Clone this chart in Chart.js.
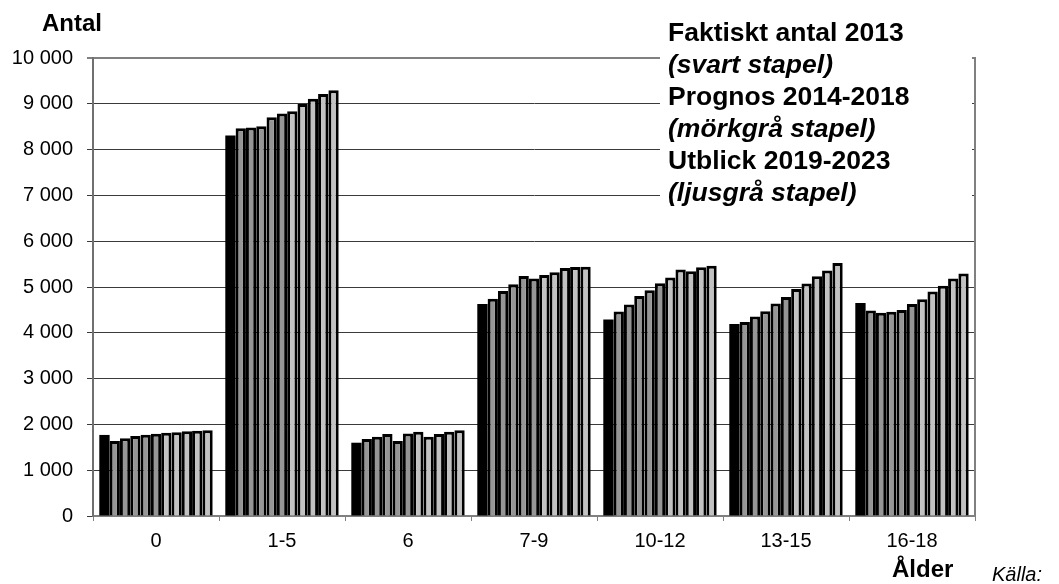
<!DOCTYPE html>
<html lang="sv">
<head>
<meta charset="utf-8">
<title>Befolkningsprognos</title>
<script src="https://cdn.jsdelivr.net/npm/chart.js@4"></script>
<style>
  body { margin: 0; background: #fff; }
  #ram { width: 1059px; height: 584px; position: relative; }
</style>
</head>
<body>
<div id="ram"><canvas id="grafik"></canvas></div>
<script>
const aldrar = ["0", "1-5", "6", "7-9", "10-12", "13-15", "16-18"];
const ar = ["2013", "2014", "2015", "2016", "2017", "2018", "2019", "2020", "2021", "2022", "2023"];

// antal per åldersgrupp, ett år per rad
const v2013 = [1770, 8310, 1600, 4630, 4290, 4190, 4650];
const v2014 = [1640, 8465, 1680, 4745, 4465, 4235, 4485];
const v2015 = [1700, 8485, 1730, 4915, 4620, 4355, 4440];
const v2016 = [1745, 8510, 1790, 5060, 4805, 4470, 4460];
const v2017 = [1775, 8705, 1640, 5240, 4930, 4640, 4500];
const v2018 = [1795, 8790, 1800, 5185, 5080, 4780, 4630];
const v2019 = [1815, 8835, 1840, 5260, 5210, 4955, 4730];
const v2020 = [1830, 8995, 1730, 5320, 5380, 5075, 4900];
const v2021 = [1850, 9110, 1790, 5415, 5345, 5235, 5030];
const v2022 = [1860, 9215, 1840, 5435, 5430, 5360, 5185];
const v2023 = [1870, 9295, 1870, 5440, 5465, 5525, 5295];

const yTicks = [0, 1000, 2000, 3000, 4000, 5000, 6000, 7000, 8000, 9000, 10000];

const textRader = [
  ["Faktiskt antal 2013", "bold"],
  ["(svart stapel)", "italic bold"],
  ["Prognos 2014-2018", "bold"],
  ["(mörkgrå stapel)", "italic bold"],
  ["Utblick 2019-2023", "bold"],
  ["(ljusgrå stapel)", "italic bold"],
];

const serier = [v2013, v2014, v2015, v2016, v2017, v2018, v2019, v2020, v2021, v2022, v2023];
const FONT = "'Liberation Sans', Arial, sans-serif";

function fargFor(i) {
  if (i === 0) return "#000000";
  if (i <= 5) return "#969696";
  return "#c2c2c2";
}

const datasets = serier.map((data, i) => ({
  label: ar[i],
  data: data,
  backgroundColor: fargFor(i),
  borderColor: "#000000",
  borderWidth: i === 0 ? 0 : 3,
  categoryPercentage: 0.9,
  barPercentage: 1.0,
}));

const textPlugin = {
  id: "texter",
  afterDraw(chart) {
    const c = chart.ctx;
    const area = chart.chartArea;
    c.save();

    // vit ruta bakom förklaringen
    c.fillStyle = "#ffffff";
    c.fillRect(660, 14, 312, 196);

    c.fillStyle = "#000000";
    c.textAlign = "left";
    c.textBaseline = "alphabetic";
    textRader.forEach((rad, i) => {
      c.font = rad[1] + " 26.5px " + FONT;
      c.fillText(rad[0], 668, 41 + i * 31.9);
    });

    // ramlinje till höger
    c.strokeStyle = "#808080";
    c.lineWidth = 2;
    c.beginPath();
    c.moveTo(area.right, area.top - 1);
    c.lineTo(area.right, area.bottom);
    c.stroke();

    c.font = "bold 24px " + FONT;
    c.fillText("Antal", 42, 31);
    c.fillText("Ålder", 892, 577);

    c.font = "italic 20px " + FONT;
    c.fillText("Källa:", 992, 581);
    c.restore();
  },
};

new Chart(document.getElementById("grafik"), {
  type: "bar",
  data: { labels: aldrar, datasets: datasets },
  options: {
    responsive: true,
    maintainAspectRatio: false,
    animation: false,
    layout: { padding: { left: 0, right: 84, top: 58, bottom: 0 } },
    plugins: {
      legend: { display: false },
      tooltip: { enabled: false },
    },
    scales: {
      x: {
        grid: {
          offset: true,
          drawOnChartArea: false,
          tickLength: 5,
          color: "#808080",
        },
        border: { color: "#808080", width: 2 },
        ticks: { color: "#000", padding: 8, font: { family: FONT, size: 20 } },
        afterFit: (s) => { s.height = 68; },
      },
      y: {
        min: 0,
        max: 10000,
        afterBuildTicks: (s) => { s.ticks = yTicks.map((v) => ({ value: v })); },
        grid: {
          tickLength: 6,
          color: (g) => (g.tick && g.tick.value === 10000 ? "#808080" : "#3a3a3a"),
          lineWidth: (g) => (g.tick && g.tick.value === 10000 ? 2 : 1),
        },
        border: { color: "#707070", width: 2 },
        ticks: {
          color: "#000",
          padding: 14,
          font: { family: FONT, size: 20 },
          callback: (v) => String(v).replace(/\B(?=(\d{3})+(?!\d))/g, " "),
        },
        afterFit: (s) => { s.width = 93; },
      },
    },
  },
  plugins: [textPlugin],
});
</script>
</body>
</html>
